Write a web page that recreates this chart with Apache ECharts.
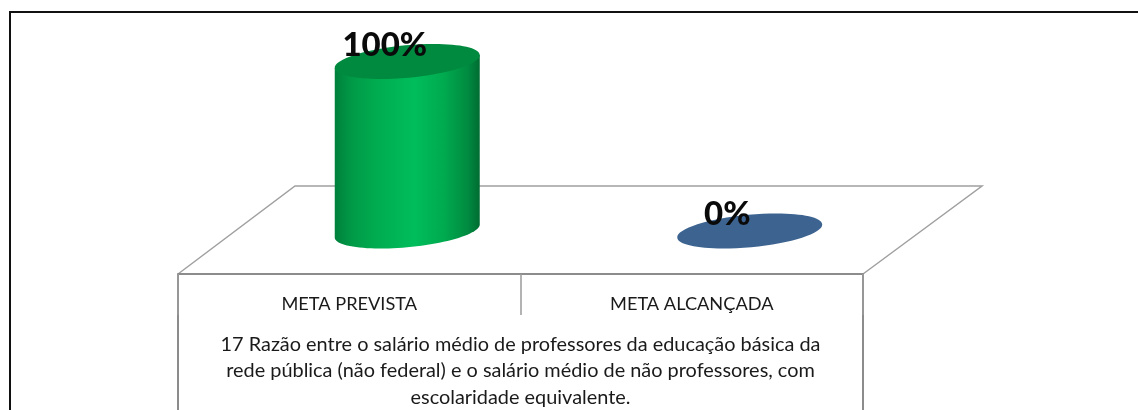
<!DOCTYPE html>
<html><head><meta charset="utf-8">
<style>html,body{margin:0;padding:0;background:#fff}#c{width:1138px;height:410px}</style>
<script src="https://cdn.jsdelivr.net/npm/echarts@6/dist/echarts.min.js"></script>
</head><body><div id="c"></div>
<script>
const categories = ['META PREVISTA', 'META ALCANÇADA'];
const values = [100, 0];
const description = '17 Razão entre o salário médio de professores da educação básica da\nrede pública (não federal) e o salário médio de não professores, com\nescolaridade equivalente.';
const topColors = ['#008a40', '#3d6491'];
const chart = echarts.init(document.getElementById('c'), null, {renderer: 'canvas'});
const A = 72.8, B = 16.2, TH = 0.094, DEPTH = 58;
function pt(cx, cy, t) {
  return [cx + A * Math.cos(t) * Math.cos(TH) - B * Math.sin(t) * Math.sin(TH),
          cy - A * Math.cos(t) * Math.sin(TH) - B * Math.sin(t) * Math.cos(TH)];
}
function renderItem(params, api) {
  const i = params.dataIndex, v = api.value(1);
  const top = api.coord([api.value(0), v]);
  const base = api.coord([api.value(0), 0]);
  const cx = top[0] + DEPTH;
  const t0 = Math.atan(-B * Math.tan(TH) / A);
  const children = [];
  if (v > 0) {
    const pts = [];
    const n = 48;
    for (let k = 0; k <= n; k++) pts.push(pt(cx, base[1], t0 - Math.PI * k / n));
    pts.push(pt(cx, top[1], t0 - Math.PI));
    pts.push(pt(cx, top[1], t0));
    children.push({type: 'polygon', shape: {points: pts}, style: {
      fill: new echarts.graphic.LinearGradient(0, 0, 1, 0, [
        {offset: 0, color: '#00803c'}, {offset: 0.12, color: '#009a47'},
        {offset: 0.3, color: '#00ad50'}, {offset: 0.55, color: '#00bd5b'},
        {offset: 0.75, color: '#00ab4f'}, {offset: 0.92, color: '#008a40'},
        {offset: 1, color: '#006c31'}])}});
  }
  children.push({type: 'ellipse', originX: cx, originY: top[1], rotation: TH,
    shape: {cx: cx, cy: top[1], rx: A, ry: B}, style: {fill: topColors[i]}});
  children.push({type: 'text', style: {
    text: v + '%', x: cx - 22.5, y: top[1] - 16.5, align: 'center', verticalAlign: 'middle',
    font: '900 33px "Lato"', fill: '#0a0a0a'}});
  return {type: 'group', children};
}
chart.setOption({
  animation: false,
  grid: {left: 178, width: 685, top: 61.5, height: 212.5, outerBoundsMode: 'none'},
  xAxis: {
    type: 'category', data: categories, position: 'bottom',
    axisLine: {onZero: false, lineStyle: {color: '#8c8c8c', width: 2}},
    axisTick: {show: true, length: 41, inside: false, lineStyle: {color: '#9a9a9a', width: 1.5}},
    axisLabel: {margin: 21, color: '#1a1a1a', fontFamily: 'Lato', fontSize: 18.2},
    name: description, nameLocation: 'middle', nameGap: 57,
    nameTextStyle: {color: '#1a1a1a', fontFamily: 'Lato', fontSize: 19.9, lineHeight: 26.5, verticalAlign: 'top'}
  },
  yAxis: {type: 'value', min: -25.37, max: 100, show: false},
  graphic: [
    {type: 'polyline', shape: {points: [[178, 274], [295, 186], [982, 186], [863, 274]]}, style: {fill: null, stroke: '#a0a0a0', lineWidth: 1.5}, z: 0},
    {type: 'line', shape: {x1: 178, y1: 274, x2: 178, y2: 410}, style: {stroke: '#8c8c8c', lineWidth: 2}},
    {type: 'line', shape: {x1: 863, y1: 274, x2: 863, y2: 410}, style: {stroke: '#8c8c8c', lineWidth: 2}},
    {type: 'polyline', shape: {points: [[10, 410], [10, 12], [1138, 12]]}, style: {fill: null, stroke: '#111', lineWidth: 2}}
  ],
  series: [{type: 'custom', coordinateSystem: 'cartesian2d', renderItem, clip: false, z: 5,
    data: values.map((v, i) => [i, v]), encode: {x: 0, y: 1}}]
});
</script></body></html>
